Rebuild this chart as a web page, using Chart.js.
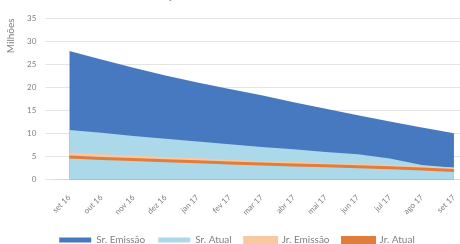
<!DOCTYPE html>
<html lang="pt">
<head>
  <meta charset="UTF-8" />
  <title>Saldo devedor</title>
  <script src="https://cdn.jsdelivr.net/npm/chart.js"></script>
  <style>
    html, body { margin: 0; padding: 0; background: #fff; overflow: hidden; }
    #wrap { position: relative; width: 460px; height: 244px; overflow: hidden; }
    #chart { position: absolute; left: 0; top: -12px; }
  </style>
</head>
<body>
<div id="wrap">
  <canvas id="chart" width="475" height="269"></canvas>
</div>
<script>
  const meses = ['set 16', 'out 16', 'nov 16', 'dez 16', 'jan 17', 'fev 17', 'mar 17',
                 'abr 17', 'mai 17', 'jun 17', 'jul 17', 'ago 17', 'set 17'];
  const srEmissao = [27.9, 26.1, 24.3, 22.6, 21.1, 19.7, 18.3, 16.8, 15.4, 14.0, 12.6, 11.3, 10.1];
  const srAtual   = [10.8, 10.2, 9.5, 8.9, 8.3, 7.7, 7.1, 6.6, 6.0, 5.5, 4.6, 3.2, 2.6];
  const jrEmissao = [5.6, 5.2, 4.9, 4.6, 4.3, 4.0, 3.7, 3.5, 3.3, 3.1, 2.9, 2.6, 2.3];
  const jrAtual   = [4.9, 4.6, 4.4, 4.1, 3.9, 3.6, 3.4, 3.2, 3.0, 2.8, 2.6, 2.3, 2.0];
  const yTicks = [0, 5, 10, 15, 20, 25, 30, 35];

  const cinza = '#808080';
  Chart.defaults.font.family = 'Lato, "Open Sans", sans-serif';
  Chart.defaults.color = cinza;

  new Chart(document.getElementById('chart'), {
    type: 'line',
    data: {
      labels: meses,
      datasets: [
        {
          label: 'Sr. Emissão',
          data: srEmissao,
          backgroundColor: '#4679c0',
          borderColor: '#4679c0',
          borderWidth: 0,
          fill: 'origin',
          pointRadius: 0,
          order: 4
        },
        {
          label: 'Sr. Atual',
          data: srAtual,
          backgroundColor: '#acd9ea',
          borderColor: '#acd9ea',
          borderWidth: 0,
          fill: 'origin',
          pointRadius: 0,
          order: 3
        },
        {
          label: 'Jr. Emissão',
          data: jrEmissao,
          backgroundColor: '#f8c9a0',
          borderColor: '#f8c9a0',
          borderWidth: 3,
          fill: false,
          pointRadius: 0,
          order: 2
        },
        {
          label: 'Jr. Atual',
          data: jrAtual,
          backgroundColor: '#e07d3c',
          borderColor: '#e07d3c',
          borderWidth: 3,
          fill: false,
          pointRadius: 0,
          order: 1
        }
      ]
    },
    options: {
      responsive: false,
      animation: false,
      layout: { padding: { left: 4, right: 5, top: 0, bottom: 2 } },
      plugins: {
        title: {
          display: true,
          text: 'Evolução do Saldo Devedor das Cotas',
          color: '#8c8c8c',
          font: { size: 12, weight: 'normal' },
          padding: { top: 0, bottom: 16 }
        },
        legend: {
          position: 'bottom',
          labels: {
            boxWidth: 32,
            boxHeight: 5,
            padding: 13,
            font: { size: 10 },
            color: cinza,
            sort: (a, b) => a.datasetIndex - b.datasetIndex
          }
        },
        tooltip: { enabled: false }
      },
      scales: {
        x: {
          offset: true,
          grid: { display: false },
          border: { color: '#d9d9d9' },
          ticks: { maxRotation: 45, minRotation: 45, padding: 5, font: { size: 8 }, color: cinza }
        },
        y: {
          min: 0,
          max: 35,
          afterBuildTicks: axis => { axis.ticks = yTicks.map(v => ({ value: v })); },
          grid: { color: '#e4e4e4' },
          border: { display: false },
          ticks: { font: { size: 8 }, color: cinza, padding: 9 },
          title: { display: true, text: 'Milhões', align: 'end', font: { size: 10 }, color: cinza, padding: 1 }
        }
      }
    }
  });
</script>
</body>
</html>
